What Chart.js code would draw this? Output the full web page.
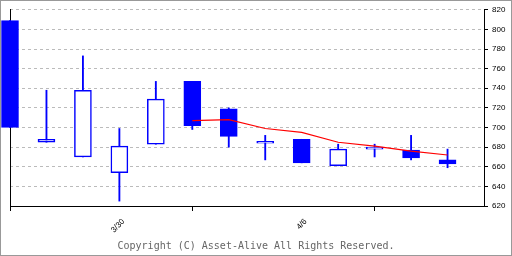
<!DOCTYPE html>
<html>
<head>
  <meta charset="utf-8" />
  <style>
    body {
      margin: 0;
      background-color: #fff;
    }

    .frame {
      position: relative;
      width: 512px;
      height: 256px;
      box-sizing: border-box;
      border: 1px solid #999;
      background-color: #fff;
    }

    .chart-box {
      position: absolute;
      left: 0;
      top: 0;
      width: 510px;
      height: 254px;
    }

    .copyright {
      position: absolute;
      left: 0;
      top: 239px;
      width: 510px;
      text-align: center;
      font: 10px/12px "DejaVu Sans Mono", monospace;
      color: #666;
    }
  </style>
</head>

<body>
  <div class="frame">
    <div class="chart-box"><canvas id="candleChart"></canvas></div>
    <div class="copyright">Copyright (C) Asset-Alive All Rights Reserved.</div>
  </div>

  <script src="https://cdn.jsdelivr.net/npm/chart.js"></script>

  <script>
    // daily prices, one entry per session
    const opens  = [809, 685, 670, 654, 683, 747, 719, 684, 688, 661, 678, 677, 667];
    const highs  = [809, 738, 773, 699, 747, 747, 720, 692, 688, 683, 683, 692, 678];
    const lows   = [700, 685, 670, 625, 683, 698, 680, 667, 664, 661, 670, 667, 659];
    const closes = [700, 688, 738, 681, 729, 702, 691, 686, 664, 678, 680, 669, 663];

    // moving average (starts at session 5)
    const maStart = 5;
    const maValues = [707, 708, 699, 695, 685, 681, 676, 672];

    // x axis: marks and dates
    const tickMarks = [0, 5, 10];
    const dateLabels = { 3: "3/30", 8: "4/6" };
    const yTicks = [620, 640, 660, 680, 700, 720, 740, 760, 780, 800, 820];

    const BLUE = "#0000ff";

    function B() {
      const bodies = opens.map((o, i) => ({ x: i, y: [o, closes[i]] }));
      const wicks = highs.map((h, i) => ({ x: i, y: [lows[i], h] }));
      const ma = maValues.map((v, i) => ({ x: maStart + i, y: v }));

      const tickFont = { family: "Liberation Sans", size: 8 };

      new Chart(document.getElementById("candleChart"), {
        data: {
          datasets: [
            {
              type: "line",
              data: ma,
              borderColor: "#ff0000",
              borderWidth: 1.2,
              pointRadius: 0,
              tension: 0,
              order: 0
            },
            {
              type: "bar",
              data: bodies,
              backgroundColor: bodies.map(b => b.y[1] >= b.y[0] ? "#fff" : BLUE),
              borderColor: BLUE,
              borderWidth: 1.5,
              borderSkipped: false,
              barThickness: 17,
              grouped: false,
              clip: false,
              order: 1
            },
            {
              type: "bar",
              data: wicks,
              backgroundColor: BLUE,
              borderWidth: 0,
              barThickness: 1.2,
              grouped: false,
              clip: false,
              order: 2
            }
          ]
        },
        options: {
          responsive: true,
          maintainAspectRatio: false,
          animation: false,
          devicePixelRatio: 1,
          layout: { padding: { left: 9, top: 4, right: 0, bottom: 0 } },
          plugins: {
            legend: { display: false },
            tooltip: { enabled: false }
          },
          scales: {
            x: {
              type: "linear",
              offset: false,
              min: 0,
              max: 13,
              afterFit: s => { s.height = 49; },
              afterBuildTicks: s => {
                s.ticks = [...tickMarks, ...Object.keys(dateLabels).map(Number)]
                  .sort((a, b) => a - b)
                  .map(v => ({ value: v }));
              },
              ticks: {
                autoSkip: false,
                minRotation: 45,
                maxRotation: 45,
                padding: 6,
                labelOffset: 4,
                color: "#000",
                font: { family: "Liberation Sans", size: 8 },
                callback: v => dateLabels[v] || ""
              },
              grid: {
                offset: false,
                drawOnChartArea: false,
                tickLength: 5,
                tickColor: ctx => tickMarks.includes(ctx.tick && ctx.tick.value) ? "#000" : "rgba(0,0,0,0)"
              },
              border: { color: "#000", width: 1 }
            },
            y: {
              position: "right",
              min: 620,
              max: 820,
              afterFit: s => { s.width = 27; },
              afterBuildTicks: s => { s.ticks = yTicks.map(v => ({ value: v })); },
              ticks: {
                padding: 4,
                color: "#000",
                font: tickFont
              },
              grid: {
                color: "#bbb",
                tickColor: "#000",
                tickLength: 4
              },
              border: { color: "#000", width: 1, dash: [3, 3] }
            },
            yLeft: {
              position: "left",
              min: 620,
              max: 820,
              afterFit: s => { s.width = 0; },
              ticks: { display: false },
              grid: { display: false },
              border: { color: "#000", width: 1 },
              z: 1
            }
          }
        }
      });
    } B();
  </script>
</body>

</html>
